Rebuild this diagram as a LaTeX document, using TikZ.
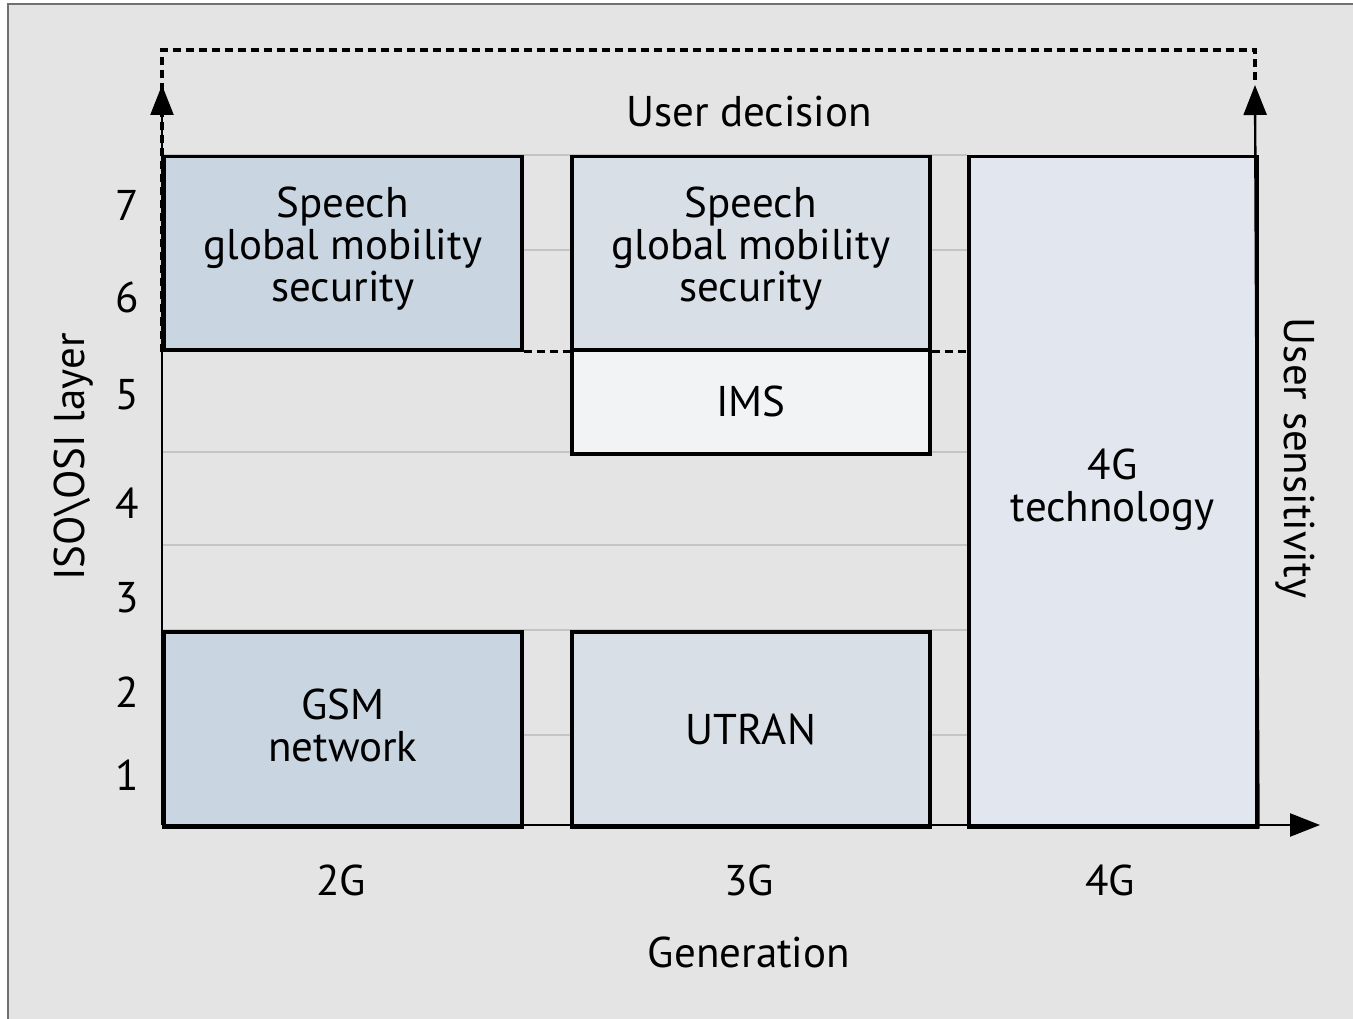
\documentclass[tikz,border=0pt]{standalone}
\usepackage{fontspec}
\setmainfont{PT Sans}
\usetikzlibrary{arrows.meta}
\definecolor{bgc}{HTML}{E4E4E4}
\definecolor{framec}{HTML}{707070}
\definecolor{gridc}{HTML}{C4C4C4}
\definecolor{boxA}{HTML}{C9D5E1}
\definecolor{boxB}{HTML}{D8DFE7}
\definecolor{boxC}{HTML}{F2F3F5}
\definecolor{boxD}{HTML}{E2E6EF}
\begin{document}
\begin{tikzpicture}[x=1pt,y=-1pt,
  box/.style={draw=black, line width=3.5pt, anchor=north west, inner sep=0pt},
  lbl/.style={font=\fontsize{43}{42}\selectfont, inner sep=0pt, align=center},
  gridline/.style={draw=gridc, line width=2pt},
  dashline/.style={draw=black, line width=3.5pt, dash pattern=on 8pt off 5pt},
  axis/.style={draw=black, line width=2.4pt, -{Triangle[length=30pt,width=23pt]}}]
\useasboundingbox (0,0) rectangle (1353,1019);
\fill[white] (0,0) rectangle (1353,1019);
\fill[bgc] (8,4) rectangle (1353,1019);
\draw[framec, line width=2pt] (8,1019) -- (8,4) -- (1353,4);
% grid lines
\foreach \yy in {155,250,452,545,630,735}
  \draw[gridline] (162,\yy) -- (967,\yy);
% boxes
\node[box, fill=boxA, minimum width=358, minimum height=193] (sp2) at (162,155) {};
\node[box, fill=boxA, minimum width=358, minimum height=195] (gsm) at (162,630) {};
\node[box, fill=boxB, minimum width=358, minimum height=193] (sp3) at (570,155) {};
\node[box, fill=boxC, minimum width=358, minimum height=104] (ims) at (570,348) {};
\node[box, fill=boxB, minimum width=358, minimum height=195] (utran) at (570,630) {};
\node[box, fill=boxD, minimum width=288, minimum height=670] (g4) at (967,155) {};
% box texts
\node[lbl, yshift=5pt] (t-sp2) at (sp2.center) {Speech\\global mobility\\security};
\node[lbl, yshift=4pt] (t-gsm) at (gsm.center) {GSM\\network};
\node[lbl, yshift=5pt] (t-sp3) at (sp3.center) {Speech\\global mobility\\security};
\node[lbl] (t-ims) at (ims.center) {IMS};
\node[lbl] (t-utran) at (utran.center) {UTRAN};
\node[lbl, yshift=2pt] (t-g4) at (g4.center) {4G\\technology};
% coordinates
\coordinate (O) at (162,825);
\coordinate (ytip) at (162,85);
\coordinate (xtip) at (1320,825);
\coordinate (rtip) at (1255,85);
\coordinate (tl) at (162,50);
\coordinate (tr) at (1255,50);
% axes
\draw[axis] (O) -- (ytip);
\draw[axis] (O) -- (xtip);
\draw[axis] (g4.south east) -- (rtip);
% dashed user decision
\draw[dashline] (sp2.south west) -- (tl) -- (tr) -- (rtip);
\draw[dashline] (sp2.south east) -- (sp3.south west);
\draw[dashline] (sp3.south east) -- (g4.west |- sp3.south);
% labels
\node[lbl] (ud) at (749,112) {User decision};
\node[lbl] (l7) at (127,205) {7};
\node[lbl] (l6) at (127,297) {6};
\node[lbl] (l5) at (127,395) {5};
\node[lbl] (l4) at (127,503) {4};
\node[lbl] (l3) at (127,598) {3};
\node[lbl] (l2) at (127,692) {2};
\node[lbl] (l1) at (127,775) {1};
\node[lbl] (x2) at (341,880) {2G};
\node[lbl] (x3) at (749,880) {3G};
\node[lbl] (x4) at (1110,880) {4G};
\node[lbl] (gen) at (749,952) {Generation};
\node[lbl, rotate=90] (iso) at (74,457) {ISO\textbackslash OSI layer};
\node[lbl, rotate=-90] (us) at (1295,458) {User sensitivity};
\end{tikzpicture}
\end{document}
